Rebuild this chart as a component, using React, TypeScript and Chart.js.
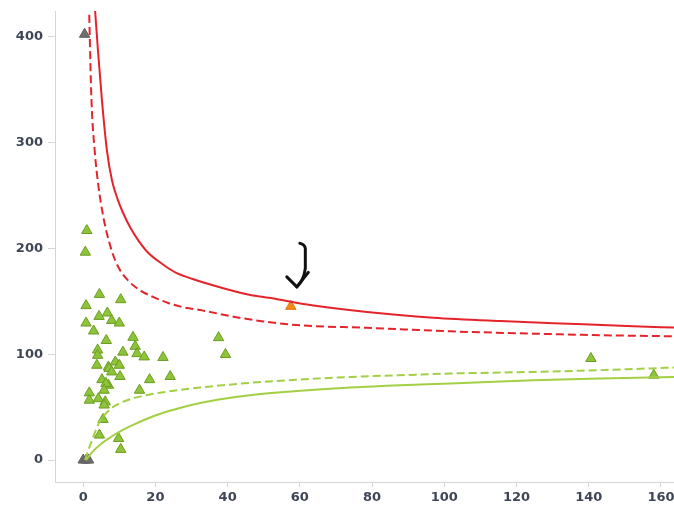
import React, { useEffect, useRef } from 'react';
import { Chart, registerables } from 'chart.js';

Chart.register(...registerables);

// ---- Data ----
const xTicks = [0, 20, 40, 60, 80, 100, 120, 140, 160];
const yTicks = [0, 100, 200, 300, 400];

const greenX = [1.0, 0.6, 4.5, 10.4, 0.8, 4.4, 6.7, 0.8, 7.9, 10.0, 2.9, 6.4, 13.8, 4.0, 4.0, 11.0, 14.4, 14.9, 16.9, 22.1, 3.8, 8.9, 10.0, 7.0, 7.2, 7.9, 10.2, 5.2, 18.4, 24.1, 7.0, 6.3, 1.7, 5.8, 1.7, 4.2, 6.1, 5.8, 15.6, 5.5, 4.5, 9.8, 10.4, 37.5, 39.4, 140.6, 158.0];
const greenY = [217, 196.5, 156.6, 151.6, 146, 135.8, 139, 129.5, 132, 129.5, 122, 113, 116, 104, 99, 102, 107.5, 100.6, 97.5, 97, 89.6, 92.7, 89.6, 88, 86.5, 83.3, 79, 76, 76, 79, 70.7, 72.4, 63.5, 66, 56.6, 58, 55, 52, 66, 38.4, 23.6, 20.4, 10.1, 115.7, 99.8, 96, 80.2];

const grayX = [0.4, 0, 0.8, 1.5];
const grayY = [402.5, 0, 0, 0];

const orangeX = [57.5];
const orangeY = [145.3];

const upperSolidX = [3.3, 4.1, 5.2, 6.6, 8, 9.6, 11, 13, 15.3, 18, 21.8, 25.5, 30.1, 39.3, 46.3, 53.2, 60.1, 78.6, 97, 115.5, 138.6, 152.4, 164];
const upperSolidY = [425, 387, 340, 292, 264, 246, 234, 220, 207.5, 196, 185.6, 177.5, 171.4, 162, 156, 152.5, 148, 140, 134.6, 131.4, 128.3, 126.4, 125.2];

const upperDashX = [1.6, 2.3, 3.2, 4.15, 5.6, 7.9, 9.8, 12.5, 16, 19.5, 23.5, 27.5, 32.9, 41.6, 50, 60.1, 78.6, 101.7, 124.7, 143.2, 164];
const upperDashY = [432, 340, 292, 261, 229.5, 198, 182, 169.5, 160, 154, 148.5, 144.6, 141.5, 135.5, 131, 127.4, 125, 121.7, 119.5, 118, 117];

const lowerSolidX = [0.8, 2.5, 5, 8, 11, 14, 18, 22, 27, 32.4, 39, 46.2, 60.1, 74, 87.8, 101.7, 124.7, 143.2, 164];
const lowerSolidY = [0, 7.5, 15.5, 22.5, 28.5, 33.5, 39.5, 44.5, 49.5, 54, 58, 61.3, 65.4, 68.6, 70.8, 72.3, 75.5, 77, 78.6];

const lowerDashX = [0.5, 1.5, 2.8, 4.5, 6, 8.2, 11, 14, 18.5, 25, 32.4, 46.2, 60.1, 74, 87.8, 101.7, 124.7, 143.2, 164];
const lowerDashY = [0, 10, 22, 36, 43, 50, 55, 58.5, 62, 65.5, 68.5, 73, 76.1, 78.6, 80.2, 81.8, 83.3, 85, 87.5];

// ---- Helpers ----
const toPts = (xs: number[], ys: number[]) => xs.map((x, i) => ({ x, y: ys[i] }));

const RED = '#e4242b';
const LIME = '#a3cf44';
const FONT = { family: 'DejaVu Sans', size: 13, weight: 'bold' as const };
const TICK_COLOR = '#3e4656';
const AXIS_COLOR = '#d4d4d4';

const arrowPlugin = {
  id: 'arrowNote',
  afterDraw(chart: any) {
    const xs = chart.scales.x;
    const ys = chart.scales.y;
    const ox = xs.getPixelForValue(orangeX[0]);
    const oy = ys.getPixelForValue(orangeY[0]);
    const ctx = chart.ctx;
    ctx.save();
    ctx.strokeStyle = '#111';
    ctx.lineWidth = 3;
    ctx.lineCap = 'round';
    ctx.lineJoin = 'round';
    ctx.beginPath();
    ctx.moveTo(ox + 9, oy - 63);
    ctx.quadraticCurveTo(ox + 14, oy - 62, ox + 14.5, oy - 58);
    ctx.lineTo(ox + 14.5, oy - 38);
    ctx.quadraticCurveTo(ox + 13, oy - 26, ox + 6, oy - 19.5);
    ctx.stroke();
    ctx.beginPath();
    ctx.moveTo(ox - 4, oy - 29.5);
    ctx.lineTo(ox + 6, oy - 19.5);
    ctx.lineTo(ox + 17.5, oy - 34);
    ctx.stroke();
    ctx.restore();
  },
};

const CANVAS_W = 681;
const CANVAS_H = 507;

export default function App() {
  const ref = useRef<HTMLCanvasElement | null>(null);

  useEffect(() => {
    if (!ref.current) return;
    const lineBase = {
      showLine: true,
      pointRadius: 0,
      pointHoverRadius: 0,
      borderWidth: 2,
      cubicInterpolationMode: 'monotone' as const,
      fill: false,
      order: 0,
    };
    const pointBase = {
      showLine: false,
      pointStyle: 'triangle' as const,
      pointRadius: 6,
      pointBorderWidth: 1,
      order: 1,
    };
    const chart = new Chart(ref.current, {
      type: 'scatter',
      data: {
        datasets: [
          { ...lineBase, label: 'upper 99.8%', data: toPts(upperSolidX, upperSolidY), borderColor: RED },
          { ...lineBase, label: 'upper 95%', data: toPts(upperDashX, upperDashY), borderColor: RED, borderDash: [8, 4] },
          { ...lineBase, label: 'lower 95%', data: toPts(lowerDashX, lowerDashY), borderColor: LIME, borderDash: [8, 4] },
          { ...lineBase, label: 'lower 99.8%', data: toPts(lowerSolidX, lowerSolidY), borderColor: LIME },
          { ...pointBase, label: 'green', data: toPts(greenX, greenY), backgroundColor: '#8cc43a', borderColor: '#6d9c22' },
          { ...pointBase, label: 'gray', data: toPts(grayX, grayY), backgroundColor: '#6e6e6e', borderColor: '#5e5e5e' },
          { ...pointBase, label: 'orange', data: toPts(orangeX, orangeY), backgroundColor: '#f08a1c', borderColor: '#e07a10' },
        ],
      },
      options: {
        animation: false,
        responsive: false,
        maintainAspectRatio: false,
        layout: { padding: { top: 11, right: 0, left: 0, bottom: 0 } },
        plugins: { legend: { display: false }, tooltip: { enabled: false } },
        scales: {
          x: {
            type: 'linear',
            min: -7.8,
            max: 163.6,
            afterBuildTicks: (s: any) => {
              s.ticks = xTicks.map((v) => ({ value: v }));
            },
            afterFit: (s: any) => {
              s.height = 25;
              s.paddingLeft = 0;
              s.paddingRight = 0;
            },
            grid: { drawOnChartArea: false, drawTicks: true, tickLength: 5, color: AXIS_COLOR },
            border: { display: true, color: AXIS_COLOR, width: 1 },
            ticks: { font: FONT, color: TICK_COLOR, padding: 3, maxRotation: 0, autoSkip: false },
          },
          y: {
            type: 'linear',
            min: -20.75,
            max: 424.5,
            afterBuildTicks: (s: any) => {
              s.ticks = yTicks.map((v) => ({ value: v }));
            },
            afterFit: (s: any) => {
              s.width = 55;
              s.paddingTop = 0;
              s.paddingBottom = 0;
            },
            grid: { drawOnChartArea: false, drawTicks: true, tickLength: 7, color: AXIS_COLOR },
            border: { display: true, color: AXIS_COLOR, width: 1 },
            ticks: { font: FONT, color: TICK_COLOR, padding: 5, autoSkip: false },
          },
        },
      },
      plugins: [arrowPlugin],
    });
    return () => chart.destroy();
  }, []);

  return (
    <div style={{ position: 'absolute', left: 0, top: 0, width: 674, height: 507, background: '#fff', overflow: 'hidden' }}>
      <canvas ref={ref} width={CANVAS_W} height={CANVAS_H} style={{ width: CANVAS_W, height: CANVAS_H, display: 'block' }} />
    </div>
  );
}
